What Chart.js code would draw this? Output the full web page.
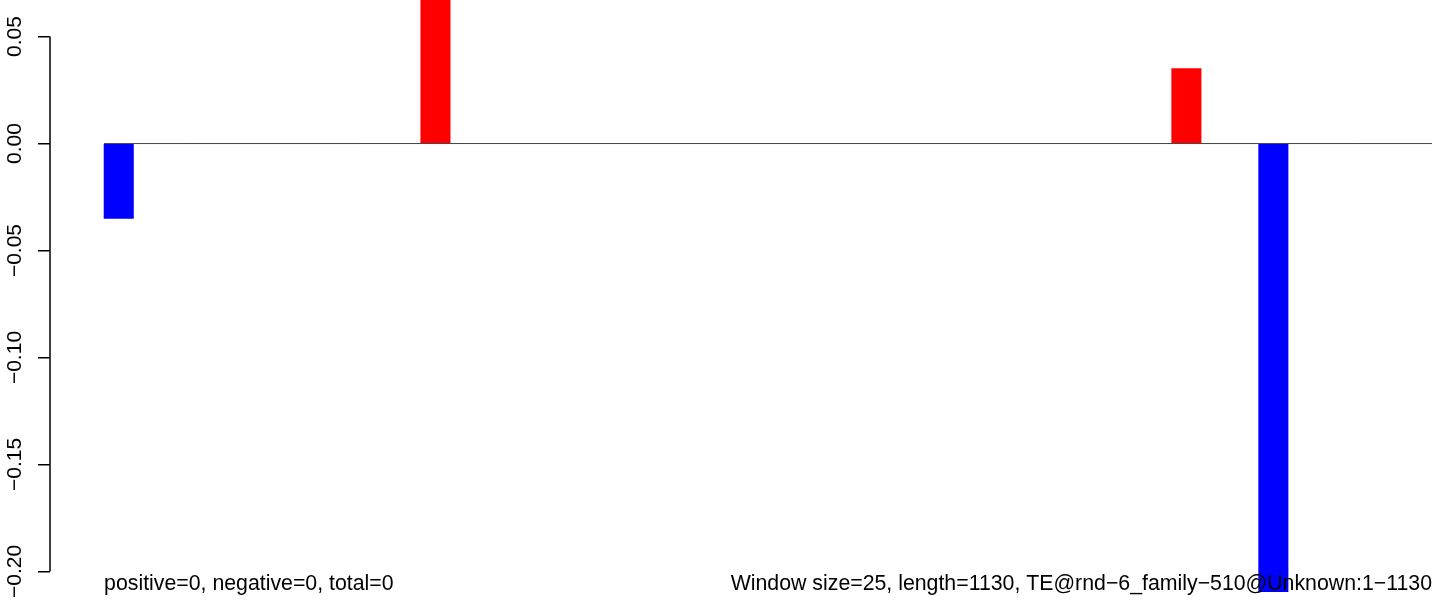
<!DOCTYPE html>
<html>
<head>
<meta charset="utf-8">
<script src="https://cdn.jsdelivr.net/npm/chart.js@4"></script>
<style>
  html, body { margin: 0; padding: 0; background: #fff; }
</style>
</head>
<body>
<canvas id="te-chart" width="1444" height="603"></canvas>
<script>
// Window scores along TE@rnd-6_family-510 (window size 25)
const seqLength = 1130;
const windowSize = 25;
const windowCenters = [12.5, 282, 921, 995];
const windowScores = [-0.035, 0.075, 0.035, -0.215];
const yTicks = [0.05, 0, -0.05, -0.10, -0.15, -0.20];
const leftNote = 'positive=0, negative=0, total=0';
const rightNote = 'Window size=25, length=1130, TE@rnd\u22126_family\u2212510@Unknown:1\u22121130';

const FONT = '"Liberation Sans", Arial, Helvetica, sans-serif';

function fmtTick(v) {
  return (v < 0 ? '\u2212' : '') + Math.abs(v).toFixed(2);
}

// R style axis line (only between first and last tick) + bottom notes
const rAxisPlugin = {
  id: 'rAxis',
  afterDatasetsDraw(chart) {
    const { ctx, scales: { x, y }, chartArea } = chart;
    ctx.save();
    ctx.strokeStyle = '#000';
    ctx.lineWidth = 1.5;
    ctx.beginPath();
    ctx.moveTo(y.right, y.getPixelForValue(yTicks[0]));
    ctx.lineTo(y.right, y.getPixelForValue(yTicks[yTicks.length - 1]));
    ctx.stroke();

    ctx.fillStyle = '#000';
    ctx.font = '21.3px ' + FONT;
    ctx.textBaseline = 'alphabetic';
    const base = chartArea.bottom - 2;
    ctx.textAlign = 'left';
    ctx.fillText(leftNote, x.getPixelForValue(0), base);
    ctx.textAlign = 'right';
    ctx.fillText(rightNote, x.getPixelForValue(seqLength), base);
    ctx.restore();
  }
};

new Chart(document.getElementById('te-chart'), {
  type: 'bar',
  data: {
    datasets: [
      {
        type: 'line',
        data: [{ x: 0, y: 0 }, { x: seqLength, y: 0 }],
        borderColor: '#444',
        borderWidth: 1,
        pointRadius: 0,
        order: 0
      },
      {
        type: 'bar',
        data: windowCenters.map((c, i) => ({ x: c, y: windowScores[i] })),
        backgroundColor: windowScores.map(v => v >= 0 ? '#ff0000' : '#0000ff'),
        barThickness: 29.4,
        order: 1
      }
    ]
  },
  options: {
    responsive: false,
    animation: false,
    devicePixelRatio: 1,
    layout: { padding: { left: 0, right: 12, top: 0, bottom: 11 } },
    plugins: {
      legend: { display: false },
      tooltip: { enabled: false }
    },
    scales: {
      x: {
        type: 'linear',
        display: false,
        offset: false,
        min: -46,
        max: seqLength
      },
      y: {
        min: -0.2096,
        max: 0.0671,
        afterBuildTicks: s => { s.ticks = yTicks.map(v => ({ value: v })); },
        afterFit: s => { s.width = 50; s.paddingTop = 0; s.paddingBottom = 0; },
        border: { display: false },
        grid: { drawOnChartArea: false, drawTicks: true, tickLength: 12, color: '#000', lineWidth: 1.5 },
        ticks: {
          autoSkip: false,
          minRotation: 90,
          maxRotation: 90,
          crossAlign: 'center',
          padding: -4,
          color: '#000',
          font: { family: FONT, size: 21 },
          callback: v => fmtTick(v)
        }
      }
    }
  },
  plugins: [rAxisPlugin]
});
</script>
</body>
</html>
